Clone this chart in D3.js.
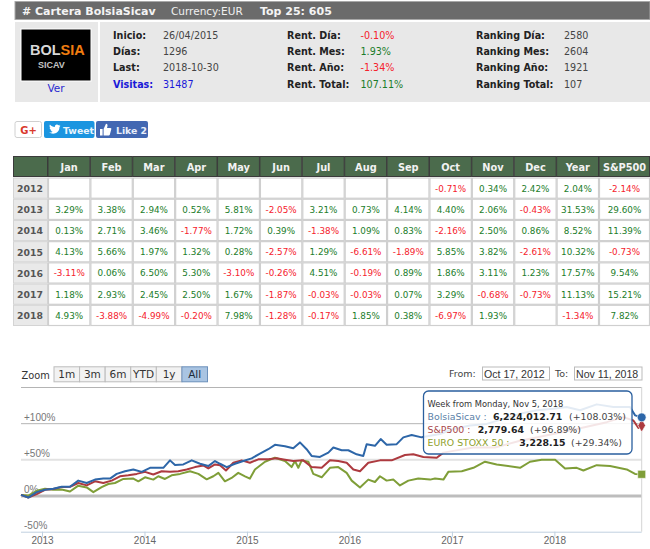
<!DOCTYPE html>
<html>
<head>
<meta charset="utf-8">
<script src="https://cdnjs.cloudflare.com/ajax/libs/d3/7.8.5/d3.min.js"></script>
<style>
body { margin: 0; background: #fff; }
text { font-family: "DejaVu Sans", sans-serif; }
</style>
</head>
<body>
<svg id="page" width="650" height="549"></svg>
<script>
// ---- datos de la cabecera ----
const infoCol1 = [["Inicio:", "26/04/2015"], ["Días:", "1296"], ["Last:", "2018-10-30"], ["Visitas:", "31487"]];
const infoCol2 = [["Rent. Día:", "-0.10%"], ["Rent. Mes:", "1.93%"], ["Rent. Año:", "-1.34%"], ["Rent. Total:", "107.11%"]];
const infoCol3 = [["Ranking Día:", "2580"], ["Ranking Mes:", "2604"], ["Ranking Año:", "1921"], ["Ranking Total:", "107"]];

// ---- tabla mensual ----
const tableCols = ["Jan", "Feb", "Mar", "Apr", "May", "Jun", "Jul", "Aug", "Sep", "Oct", "Nov", "Dec", "Year"];
const lastCol = "S&P500";
const tableYears = ["2012", "2013", "2014", "2015", "2016", "2017", "2018"];
const row2012 = ["", "", "", "", "", "", "", "", "", "-0.71%", "0.34%", "2.42%", "2.04%", "-2.14%"];
const row2013 = ["3.29%", "3.38%", "2.94%", "0.52%", "5.81%", "-2.05%", "3.21%", "0.73%", "4.14%", "4.40%", "2.06%", "-0.43%", "31.53%", "29.60%"];
const row2014 = ["0.13%", "2.71%", "3.46%", "-1.77%", "1.72%", "0.39%", "-1.38%", "1.09%", "0.83%", "-2.16%", "2.50%", "0.86%", "8.52%", "11.39%"];
const row2015 = ["4.13%", "5.66%", "1.97%", "1.32%", "0.28%", "-2.57%", "1.29%", "-6.61%", "-1.89%", "5.85%", "3.82%", "-2.61%", "10.32%", "-0.73%"];
const row2016 = ["-3.11%", "0.06%", "6.50%", "5.30%", "-3.10%", "-0.26%", "4.51%", "-0.19%", "0.89%", "1.86%", "3.11%", "1.23%", "17.57%", "9.54%"];
const row2017 = ["1.18%", "2.93%", "2.45%", "2.50%", "1.67%", "-1.87%", "-0.03%", "-0.03%", "0.07%", "3.29%", "-0.68%", "-0.73%", "11.13%", "15.21%"];
const row2018 = ["4.93%", "-3.88%", "-4.99%", "-0.20%", "7.98%", "-1.28%", "-0.17%", "1.85%", "0.38%", "-6.97%", "1.93%", "", "-1.34%", "7.82%"];
const tableRows = [row2012, row2013, row2014, row2015, row2016, row2017, row2018];

// ---- series del grafico (año decimal, % acumulado) ----
const bolsiaYears = [2012.795, 2012.866, 2012.948, 2013.029, 2013.11, 2013.192, 2013.273, 2013.354, 2013.436, 2013.517, 2013.598, 2013.664, 2013.729, 2013.81, 2013.891, 2013.973, 2014.054, 2014.135, 2014.184, 2014.249, 2014.298, 2014.379, 2014.461, 2014.542, 2014.623, 2014.688, 2014.737, 2014.802, 2014.883, 2014.964, 2015.046, 2015.127, 2015.208, 2015.273, 2015.371, 2015.452, 2015.517, 2015.582, 2015.631, 2015.712, 2015.794, 2015.843, 2015.924, 2015.989, 2016.07, 2016.135, 2016.168, 2016.249, 2016.305, 2016.363, 2016.461, 2016.526, 2016.607, 2016.705, 2016.884, 2017.014, 2017.177, 2017.34, 2017.502, 2017.665, 2017.827, 2017.99, 2018.12, 2018.25, 2018.413, 2018.576, 2018.738, 2018.787, 2018.852];
const bolsiaPct = [0.9, -2.8, 4.7, 7.9, 9.3, 12.1, 12.1, 20.6, 17.3, 22, 23.4, 23.4, 29.9, 33.6, 36, 32.7, 38.3, 38.3, 38.3, 48.6, 42.1, 43, 48.6, 43.9, 40.7, 47.7, 43.9, 39.3, 43.9, 47.7, 51.4, 57.9, 64, 70.1, 68.2, 65.4, 73.4, 64, 54.7, 53.3, 59.3, 66.4, 62.6, 62.6, 57, 54.7, 71, 68.7, 78, 70.1, 71, 80.4, 83.6, 80.4, 85, 92, 96.7, 99, 106, 113, 117.8, 120, 122.4, 117.8, 126, 122.4, 122.4, 110.8, 108.03];

const spYears = [2012.795, 2012.866, 2012.948, 2013.029, 2013.11, 2013.192, 2013.273, 2013.354, 2013.436, 2013.517, 2013.598, 2013.68, 2013.761, 2013.842, 2013.924, 2014.005, 2014.086, 2014.168, 2014.249, 2014.33, 2014.412, 2014.493, 2014.574, 2014.623, 2014.688, 2014.737, 2014.795, 2014.867, 2014.948, 2015.029, 2015.111, 2015.208, 2015.29, 2015.371, 2015.452, 2015.55, 2015.631, 2015.729, 2015.81, 2015.891, 2015.973, 2016.038, 2016.103, 2016.184, 2016.298, 2016.412, 2016.542, 2016.623, 2016.721, 2016.852, 2016.917, 2017.014, 2017.21, 2017.421, 2017.665, 2017.99, 2018.218, 2018.511, 2018.673, 2018.771, 2018.82, 2018.852];
const spPct = [0.9, -2.8, 1.9, 7.9, 8.9, 11.7, 12.1, 17.3, 14, 19.6, 17.3, 20.6, 26.6, 28, 29.9, 32.7, 29, 33.6, 32.7, 33.6, 36, 39.3, 41.6, 37.4, 43, 42, 34.6, 45.3, 48.6, 45.3, 50, 50, 51.4, 49.5, 47.7, 48.6, 39.3, 38.3, 48.6, 47.7, 45.3, 36, 33.6, 45.3, 48.6, 48.6, 56, 57, 53.3, 52.3, 59.3, 61.7, 66.4, 66.4, 75.7, 85, 92, 101.4, 108.4, 103.7, 93.5, 96.89];

const stoxxYears = [2012.795, 2012.866, 2012.948, 2013.029, 2013.11, 2013.192, 2013.273, 2013.354, 2013.436, 2013.501, 2013.582, 2013.647, 2013.712, 2013.794, 2013.891, 2013.94, 2014.005, 2014.086, 2014.135, 2014.2, 2014.265, 2014.347, 2014.444, 2014.526, 2014.607, 2014.672, 2014.721, 2014.785, 2014.85, 2014.915, 2014.981, 2015.029, 2015.078, 2015.176, 2015.273, 2015.371, 2015.436, 2015.469, 2015.501, 2015.534, 2015.599, 2015.647, 2015.729, 2015.81, 2015.891, 2015.973, 2016.022, 2016.103, 2016.184, 2016.249, 2016.298, 2016.363, 2016.428, 2016.493, 2016.575, 2016.672, 2016.787, 2016.835, 2016.917, 2016.965, 2017.096, 2017.21, 2017.323, 2017.437, 2017.665, 2017.762, 2017.876, 2018.007, 2018.104, 2018.218, 2018.283, 2018.413, 2018.543, 2018.706, 2018.787, 2018.852];
const stoxxPct = [0.9, 0, 6.5, 9.3, 7.9, 8.4, 5.6, 13.6, 11.2, 4.7, 11.7, 15.9, 17.3, 22.9, 23.4, 19.6, 25.2, 22, 26.6, 22.9, 28, 29.9, 33.6, 29.9, 22.4, 26.6, 31.3, 19.6, 24.3, 31.3, 26.6, 23.4, 36, 46.7, 52.3, 47.7, 39.3, 47.7, 38.3, 48.6, 46.7, 29.9, 25.2, 38.3, 39.3, 31.3, 20.6, 11.2, 22, 18.7, 26.6, 20.6, 22, 14, 20.6, 23.4, 22, 23.4, 22, 32.7, 33.6, 38.3, 46.7, 43, 38.3, 46.7, 49.5, 49.5, 37.4, 38.3, 34.6, 42, 40.7, 36, 29.9, 29.34];

const yearTicks = [2013, 2014, 2015, 2016, 2017, 2018];
const pctTicks = [-50, 0, 50, 100, 150];
const pctLabels = ["-50%", "0%", "+50%", "+100%", ""];
const zoomButtons = ["1m", "3m", "6m", "YTD", "1y", "All"];

// ---- tooltip ----
const tipTitle = "Week from Monday, Nov 5, 2018";
const tipNames = ["BolsiaSicav :", "S&P500 :", "EURO STOXX 50 :"];
const tipValues = ["6,224,012.71", "2,779.64", "3,228.15"];
const tipChanges = ["(+108.03%)", "(+96.89%)", "(+29.34%)"];

const svg = d3.select("#page");

function txt(parent, x, y, s, size, color, bold, anchor) {
    return parent.append("text").attr("x", x).attr("y", y).text(s)
        .attr("font-size", size).attr("fill", color)
        .attr("font-weight", bold ? "bold" : "normal")
        .attr("text-anchor", anchor || "start");
}
function valColor(s) {
    return s.charAt(0) === "-" ? "#f5222d" : "#1b7d2a";
}

let init = {
    // barra superior y panel de datos
    header: function () {
        svg.append("rect").attr("x", 15).attr("y", 1.5).attr("width", 635).attr("height", 18)
            .attr("fill", "#6b6b6b").attr("stroke", "#a8a8a8").attr("stroke-width", 1);
        txt(svg, 22, 15, "# Cartera BolsiaSicav", 11, "#f4f4f4", true);
        txt(svg, 171, 15, "Currency:EUR", 10.5, "#f0f0f0", false);
        txt(svg, 260, 15, "Top 25: 605", 11, "#f4f4f4", true);

        svg.append("rect").attr("x", 15).attr("y", 22).attr("width", 83).attr("height", 80).attr("fill", "#e8e8e8");
        svg.append("rect").attr("x", 100).attr("y", 22).attr("width", 550).attr("height", 80).attr("fill", "#e8e8e8");

        // logo
        svg.append("rect").attr("x", 21).attr("y", 29).attr("width", 70).attr("height", 52)
            .attr("fill", "#000").attr("stroke", "#fff");
        const logo = svg.append("text").attr("x", 30).attr("y", 55).attr("font-size", 14.5).attr("font-weight", "bold")
            .style("font-family", "Liberation Sans");
        logo.append("tspan").attr("fill", "#d8d8d8").text("BOL");
        logo.append("tspan").attr("fill", "#f07d10").text("SIA");
        txt(svg, 38, 68, "SICAV", 9, "#c4c4c4", true).style("font-family", "Liberation Sans");
        txt(svg, 56, 92, "Ver", 10.5, "#2a2ad0", false, "middle");

        const rowsY = [39, 55, 71.3, 87.5];
        infoCol1.forEach((d, i) => {
            const blue = d[0] === "Visitas:";
            txt(svg, 113, rowsY[i], d[0], 9.6, blue ? "#1a1ad8" : "#222", true);
            txt(svg, 163, rowsY[i], d[1], 9.6, blue ? "#1a1ad8" : "#444", false);
        });
        infoCol2.forEach((d, i) => {
            txt(svg, 287, rowsY[i], d[0], 9.6, "#222", true);
            txt(svg, 360.5, rowsY[i], d[1], 9.6, valColor(d[1]), false);
        });
        infoCol3.forEach((d, i) => {
            txt(svg, 476, rowsY[i], d[0], 9.6, "#222", true);
            txt(svg, 564, rowsY[i], d[1], 9.6, "#444", false);
        });
    },

    // botones sociales
    social: function () {
        svg.append("rect").attr("x", 15).attr("y", 121.5).attr("width", 26.5).attr("height", 16).attr("rx", 2)
            .attr("fill", "#fff").attr("stroke", "#d0d0d0");
        txt(svg, 28.5, 134, "G+", 10, "#d9372b", true, "middle");
        svg.append("rect").attr("x", 44).attr("y", 121).attr("width", 50.5).attr("height", 17).attr("rx", 2).attr("fill", "#1b95e0");
        svg.append("path").attr("transform", "translate(49,124)").attr("fill", "#fff")
            .attr("d", "M0 8.5C4 11 10.5 9.5 10.5 3L11.5 1.8 10.2 2.1 11 .8 9.6 1.3C8 -.4 5.5 .8 5.9 3 3.8 2.9 2 1.9 .9 .5 .2 1.8 .6 3.2 1.5 4L.6 3.8C.7 5 1.4 5.9 2.6 6.2L1.6 6.2C2 7.1 2.8 7.6 3.6 7.7 2.6 8.4 1.3 8.7 0 8.5Z");
        txt(svg, 63, 133.5, "Tweet", 9.3, "#e8f4fc", true);
        svg.append("rect").attr("x", 96).attr("y", 121).attr("width", 52).attr("height", 17).attr("rx", 2).attr("fill", "#4267b2");
        svg.append("path").attr("transform", "translate(100,123)").attr("fill", "#fff")
            .attr("d", "M0 6H2.6V12.5H0ZM3.6 6 6 .8C7.4 .8 7.8 2 7.4 3.4L7 5H10.4C11.4 5 11.6 6 11.2 6.6L9.8 11.8C9.6 12.3 9.2 12.5 8.8 12.5H3.6Z");
        txt(svg, 116, 133.5, "Like 2", 9.3, "#e8eefa", true);
    },

    // tabla de rentabilidades
    table: function () {
        const xCol = d3.scaleBand().domain(tableCols).range([48, 599]);
        const yRow = d3.scaleBand().domain(tableYears).range([177.5, 326]);
        const colX = i => i < tableCols.length ? xCol(tableCols[i]) : 599;
        const colW = i => i < tableCols.length ? xCol.bandwidth() : 51;

        const head = svg.append("g");
        head.selectAll("rect").data([""].concat(tableCols, [lastCol])).enter().append("rect")
            .attr("x", (d, i) => i === 0 ? 13.5 : colX(i - 1))
            .attr("y", 156.5)
            .attr("width", (d, i) => i === 0 ? 34 : colW(i - 1) - 0.5)
            .attr("height", 20)
            .attr("fill", "#4b6b4c").attr("stroke", "#3b3b3b");
        head.selectAll("text").data(tableCols.concat([lastCol])).enter().append("text")
            .attr("x", (d, i) => colX(i) + colW(i) / 2).attr("y", 170.5)
            .attr("text-anchor", "middle").attr("font-size", 9.8).attr("font-weight", "bold")
            .attr("fill", "#f2f2f2").text(d => d);

        const rows = svg.selectAll("g.row").data(tableRows).enter().append("g")
            .attr("transform", (d, i) => "translate(0," + yRow(tableYears[i]) + ")");
        rows.append("rect").attr("x", 13.5).attr("y", 0.5).attr("width", 34)
            .attr("height", yRow.bandwidth() - 1).attr("fill", "#e9e9e9").attr("stroke", "#d4d4d4");
        rows.append("text").attr("x", 30).attr("y", 14.5).attr("text-anchor", "middle")
            .attr("font-size", 9.3).attr("font-weight", "bold").attr("fill", "#555")
            .text((d, i) => tableYears[i]);
        rows.selectAll("rect.cell").data(d => d).enter().append("rect").attr("class", "cell")
            .attr("x", (d, i) => colX(i) + 0.5).attr("y", 0.5)
            .attr("width", (d, i) => colW(i) - 1).attr("height", yRow.bandwidth() - 1)
            .attr("fill", "#fff").attr("stroke", "#cfcfcf").attr("stroke-width", 1.2);
        rows.selectAll("text.val").data(d => d).enter().append("text").attr("class", "val")
            .attr("x", (d, i) => colX(i) + colW(i) / 2).attr("y", 14)
            .attr("text-anchor", "middle").attr("font-size", 8.8)
            .attr("fill", d => valColor(d)).text(d => d);
    },

    // grafico de lineas
    chart: function () {
        const x = d3.scaleLinear().domain([2012.795, 2018.852]).range([21, 641.7]);
        const y = d3.scaleLinear().domain([-50, 150]).range([531.7, 387]);
        const plot = svg.append("g");

        // controles de zoom
        txt(plot, 21.5, 379, "Zoom", 9.8, "#333", false);
        const btnX = d3.scaleBand().domain(zoomButtons).range([54, 207.5]);
        const btns = plot.selectAll("g.btn").data(zoomButtons).enter().append("g");
        btns.append("rect").attr("x", d => btnX(d)).attr("y", 366.8).attr("width", btnX.bandwidth())
            .attr("height", 15)
            .attr("fill", d => d === "All" ? "#a9c4e2" : "#f2f2f2")
            .attr("stroke", d => d === "All" ? "#6c90bb" : "#bcbcbc");
        btns.append("text").attr("x", d => btnX(d) + btnX.bandwidth() / 2).attr("y", 378)
            .attr("text-anchor", "middle").attr("font-size", 10.5)
            .attr("fill", d => d === "All" ? "#1d2a3a" : "#333").text(d => d);

        txt(plot, 449, 377, "From:", 9.5, "#444", false);
        plot.append("rect").attr("x", 482.5).attr("y", 367).attr("width", 67).attr("height", 13)
            .attr("fill", "#fff").attr("stroke", "#bbb");
        txt(plot, 484, 378, "Oct 17, 2012", 10.6, "#333", false).style("font-family", "Liberation Sans");
        txt(plot, 555, 377, "To:", 9.5, "#444", false);
        plot.append("rect").attr("x", 574.5).attr("y", 367).attr("width", 67.5).attr("height", 13)
            .attr("fill", "#fff").attr("stroke", "#bbb");
        txt(plot, 576, 378, "Nov 11, 2018", 10.6, "#333", false).style("font-family", "Liberation Sans");

        // ejes
        const yAxis = plot.append("g").attr("transform", "translate(21,0)")
            .call(d3.axisLeft(y).tickValues(pctTicks).tickSize(-620.7)
                .tickFormat((d, i) => pctLabels[i]));
        yAxis.select(".domain").remove();
        yAxis.selectAll("line").attr("stroke", d => d === 0 ? "#bdbdbd" : d === 50 ? "#e2e2e2" : d === -50 ? "#c0d0e0" : "#b4b4b4")
            .attr("stroke-width", d => d === 0 ? 3 : d === 50 ? 2 : 1);
        yAxis.selectAll("text").attr("x", 3).attr("dy", "-0.3em").attr("text-anchor", "start")
            .attr("font-size", 10).attr("fill", "#777").style("font-family", "Liberation Sans");
        plot.append("line").attr("x1", x(2018.852)).attr("x2", x(2018.852)).attr("y1", y(150)).attr("y2", y(-50))
            .attr("stroke", "#d4d4d4");

        const xAxis = plot.append("g").attr("transform", "translate(0," + y(-50) + ")")
            .call(d3.axisBottom(x).tickValues(yearTicks).tickSize(5).tickFormat(d3.format("d")));
        xAxis.select(".domain").remove();
        xAxis.selectAll("line").attr("stroke", "#c0d0e0");
        xAxis.selectAll("text").attr("y", 5).attr("dy", "0.71em").attr("font-size", 10).attr("fill", "#666")
            .style("font-family", "Liberation Sans");

        // lineas
        const line = d3.line().x(d => x(d[0])).y(d => y(d[1]));
        const seriesList = [
            { years: stoxxYears, pct: stoxxPct, color: "#7f9e38" },
            { years: spYears, pct: spPct, color: "#ad3a3f" },
            { years: bolsiaYears, pct: bolsiaPct, color: "#2d66a8" }
        ];
        plot.selectAll("path.serie").data(seriesList).enter().append("path").attr("class", "serie")
            .attr("fill", "none").attr("stroke", d => d.color).attr("stroke-width", 2)
            .attr("stroke-linejoin", "round")
            .attr("d", d => line(d3.zip(d.years, d.pct)));

        // marcadores finales
        const symbols = [d3.symbolSquare, d3.symbolDiamond, d3.symbolCircle];
        const sizes = [64, 50, 60];
        plot.selectAll("path.marker").data(seriesList).enter().append("path").attr("class", "marker")
            .attr("d", (d, i) => d3.symbol().type(symbols[i]).size(sizes[i])())
            .attr("transform", d => "translate(" + x(d.years[d.years.length - 1]) + "," + y(d.pct[d.pct.length - 1]) + ")")
            .attr("fill", d => d.color).attr("stroke", "#fff").attr("stroke-width", 0.6);

        // tooltip
        const tip = plot.append("g");
        tip.append("rect").attr("x", 423.5).attr("y", 391).attr("width", 208.5).attr("height", 63).attr("rx", 5)
            .attr("fill", "#fff").attr("fill-opacity", 0.87).attr("stroke", "#2a5f9e").attr("stroke-width", 1.3);
        txt(tip, 427.5, 406.5, tipTitle, 8.3, "#333", false);
        const tipY = [419.5, 432.7, 446.3];
        const tipColors = ["#5b7fa8", "#a8474a", "#8f9f2c"];
        const tipValX = [493, 477.7, 519.3];
        const tipChgX = [569, 530, 571];
        tipNames.forEach((n, i) => {
            txt(tip, 427.5, tipY[i], n, 9.4, tipColors[i], false);
            txt(tip, tipValX[i], tipY[i], tipValues[i], 9.4, "#222", true);
            txt(tip, tipChgX[i], tipY[i], tipChanges[i], 9.4, "#444", false);
        });
    }
};

window.onload = function () {
    init.header();
    init.social();
    init.table();
    init.chart();
};
</script>
</body>
</html>
